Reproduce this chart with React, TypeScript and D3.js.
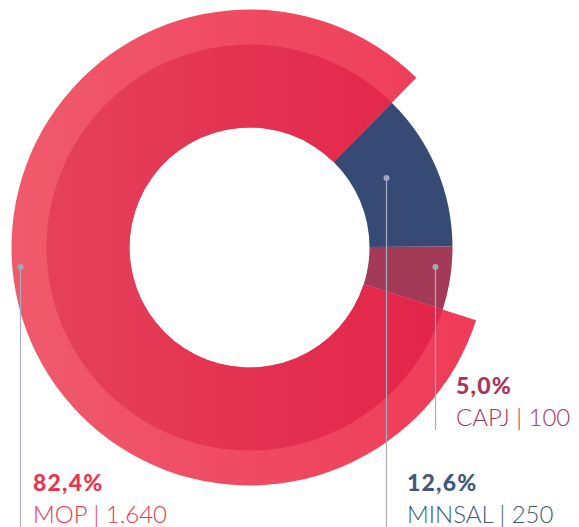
import React from 'react';
import * as d3 from 'd3';

// data
const categories = ['MINSAL', 'CAPJ', 'MOP'];
const amounts = [250, 100, 1640];
const percentLabels = ['12,6%', '5,0%', '82,4%'];
const amountLabels = ['250', '100', '1.640'];

const W = 579;
const H = 527;
const cx = 249.5;
const cy = 247.5;
const innerR = 120;
const outerR = 203;
const bigR = 238;

const textColors = ['#41597d', '#a8365a', '#e8374e'];
const sliceColors = ['#374a75', '#a33a58', 'url(#redInner)'];

// annotation layout: line x, dot y, line bottom, text x, baseline of % line
const notes = [
  { lx: 386.5, dy: 178, bottom: 527, tx: 407, ty: 491 },
  { lx: 435.5, dy: 267, bottom: 430, tx: 456, ty: 394 },
  { lx: 20.5, dy: 267, bottom: 527, tx: 33, ty: 491 },
];

export default function App() {
  const pie = d3
    .pie<number>()
    .sort(null)
    .startAngle((44.5 * Math.PI) / 180)
    .endAngle((44.5 * Math.PI) / 180 + 2 * Math.PI);
  const slices = pie(amounts);
  const arc = d3.arc<d3.PieArcDatum<number>>().innerRadius(innerR).outerRadius(outerR);
  const bigArc = d3.arc<d3.PieArcDatum<number>>().innerRadius(innerR).outerRadius(bigR);
  const mop = slices[2];

  return (
    <svg
      width={W}
      height={H}
      style={{ position: 'absolute', left: 0, top: 0 }}
      fontFamily="Lato, 'Open Sans', sans-serif"
    >
      <defs>
        <linearGradient id="redOuter" x1="0" y1="0" x2="1" y2="0">
          <stop offset="0%" stopColor="#f05a6c" />
          <stop offset="100%" stopColor="#ef3b58" />
        </linearGradient>
        <linearGradient id="redInner" x1="0" y1="0" x2="1" y2="0">
          <stop offset="0%" stopColor="#e54159" />
          <stop offset="100%" stopColor="#e3244a" />
        </linearGradient>
      </defs>
      <g transform={`translate(${cx},${cy})`}>
        <path d={bigArc(mop) ?? ''} fill="url(#redOuter)" />
        {slices.map((s, i) => (
          <path key={categories[i]} d={arc(s) ?? ''} fill={sliceColors[i]} />
        ))}
      </g>
      {notes.map((n, i) => (
        <g key={categories[i]}>
          <line x1={n.lx} x2={n.lx} y1={n.dy} y2={n.bottom} stroke="#a9acbf" strokeWidth={1.2} />
          <circle cx={n.lx} cy={n.dy} r={3} fill="#a4a7ba" />
          <text
            x={n.tx}
            y={n.ty}
            fill={textColors[i]}
            fontSize={23}
            fontWeight={900}
            letterSpacing={1.2}
          >
            {percentLabels[i]}
          </text>
          <text x={n.tx} y={n.ty + 32} fill={textColors[i]} fontSize={24} fontWeight={300}>
            {`${categories[i]} | ${amountLabels[i]}`}
          </text>
        </g>
      ))}
    </svg>
  );
}
